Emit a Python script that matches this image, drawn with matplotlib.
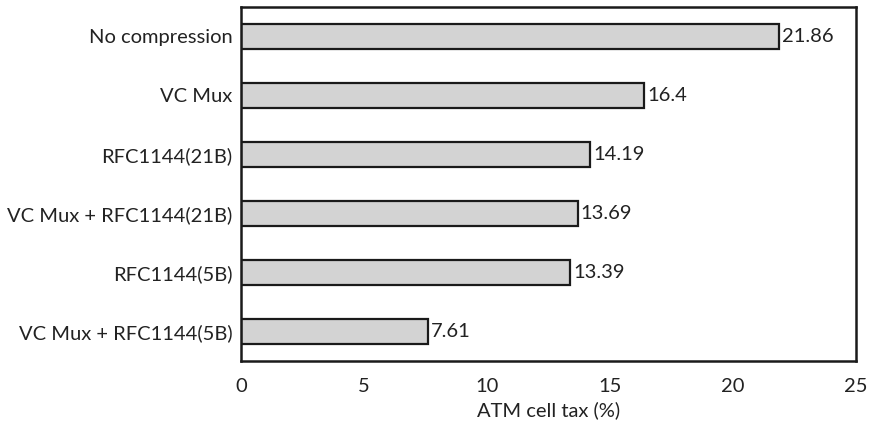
import matplotlib
matplotlib.use("Agg")
import matplotlib.pyplot as plt

categories = ["No compression", "VC Mux", "RFC1144(21B)",
              "VC Mux + RFC1144(21B)", "RFC1144(5B)", "VC Mux + RFC1144(5B)"]
values = [21.86, 16.4, 14.19, 13.69, 13.39, 7.61]
value_labels = ["21.86", "16.4", "14.19", "13.69", "13.39", "7.61"]
xticks = [0, 5, 10, 15, 20, 25]

plt.rcParams['font.family'] = ['Lato', 'DejaVu Sans']
fs = 14.5
tc = "#222222"
fig = plt.figure(figsize=(8.73, 4.26), dpi=100)
ax = fig.add_axes([0.276, 0.1526, 0.7045, 0.831])

ypos = list(range(len(categories)))
ax.barh(ypos, values, height=0.42, color="#d3d3d3", edgecolor="#1a1a1a", linewidth=1.6)
for y, v, lab in zip(ypos, values, value_labels):
    ax.text(v + 0.12, y, lab, va="center", ha="left", fontsize=fs, color=tc)

ax.set_ylim(len(categories) - 0.5, -0.5)
ax.set_xlim(0, 25)
ax.set_yticks(ypos)
ax.set_yticklabels(categories, fontsize=fs, color=tc)
ax.set_xticks(xticks)
ax.set_xticklabels([str(t) for t in xticks], fontsize=fs, color=tc)
ax.tick_params(length=0, pad=6)
ax.tick_params(axis='x', pad=12)
ax.set_xlabel("ATM cell tax (%)", fontsize=fs, color=tc, labelpad=5)
for s in ax.spines.values():
    s.set_linewidth(1.8)
    s.set_color("#1a1a1a")

fig.savefig("out.png", dpi=100)
